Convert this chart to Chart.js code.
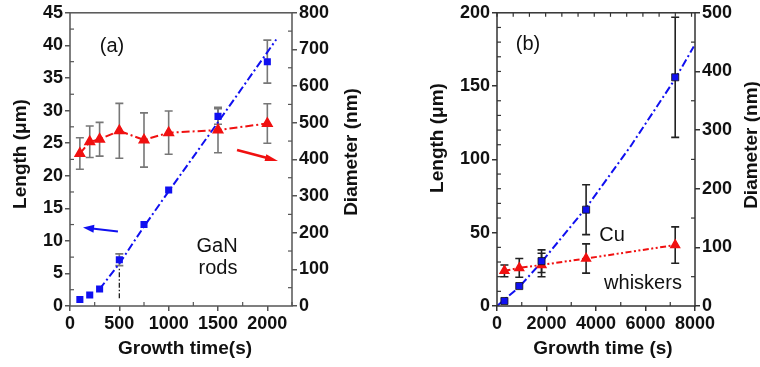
<!DOCTYPE html>
<html>
<head>
<meta charset="utf-8">
<script src="https://cdn.jsdelivr.net/npm/chart.js@4.4.1/dist/chart.umd.min.js"></script>
<style>
  html, body { margin: 0; padding: 0; background: #fff; width: 760px; height: 367px; overflow: hidden; }
  #chartA { position: absolute; left: 0; top: 0; }
  #chartB { position: absolute; left: 380px; top: 0; }
</style>
</head>
<body>
<canvas id="chartA" width="380" height="367"></canvas>
<canvas id="chartB" width="390" height="367"></canvas>
<script>
// ---- panel (a): GaN rods ----
const timeA = [100, 200, 300, 500, 750, 1000, 1500, 2000];
const lengthA = [1.0, 1.7, 2.6, 7.1, 12.5, 17.8, 29.1, 37.5];     // um
const lengthErrA = [0, 0, 0, 0.9, 0, 0, 1.2, 3.3];
const diamA = [416, 448, 455, 478, 453, 473, 480, 498];            // nm
const diamErrA = [43, 43, 46, 75, 74, 59, 62, 54];
const fitTimeA = [300, 500, 750, 1000, 1500, 2090];
const fitLengthA = [2.6, 6.5, 12.2, 17.6, 28.2, 40.9];
const markTimeA = [500, 500];
const markLengthA = [1.2, 6.0];
const ticksTimeA = [0, 500, 1000, 1500, 2000];
const ticksLengthA = [0, 5, 10, 15, 20, 25, 30, 35, 40, 45];
const ticksDiamA = [0, 100, 200, 300, 400, 500, 600, 700, 800];

// ---- panel (b): Cu whiskers ----
const timeB = [300, 900, 1800, 3600, 7200];
const lengthB = [3.4, 13.6, 30.6, 65.7, 156];
const lengthErrB = [0, 0, 7.7, 17, 41];
const diamB = [60, 65, 70, 81, 104];
const diamErrB = [10, 16, 20, 25, 31];
const fitTimeB = [0, 900, 1800, 3600, 5400, 7200, 7950];
const fitLengthB = [0, 13, 30, 67, 109, 155, 177];
const ticksTimeB = [0, 2000, 4000, 6000, 8000];
const ticksLengthB = [0, 50, 100, 150, 200];
const ticksDiamB = [0, 100, 200, 300, 400, 500];

const FONT = "'Liberation Sans', Arial, sans-serif";
const BLUE = '#1010f0';
const RED = '#f01010';
const DASHDOT = [8, 3, 2, 3];
const DASHDOTDOT = [6, 2.5, 2, 2.5, 2, 2.5];

const pts = (xs, ys) => xs.map((x, i) => ({ x: x, y: ys[i] }));

// error bars, frame, minor ticks, arrows, notes and rotated axis titles
const decor = {
    id: 'decor',
    beforeDatasetsDraw(chart, args, o) {
        const ctx = chart.ctx;
        chart.data.datasets.forEach((ds, i) => {
            if (!ds.errors) return;
            const meta = chart.getDatasetMeta(i);
            const ys = chart.scales[ds.yAxisID];
            ctx.save();
            ctx.strokeStyle = o.errColor;
            ctx.lineWidth = 1.6;
            meta.data.forEach((pt, j) => {
                const e = ds.errors[j];
                if (!e) return;
                const v = ds.data[j].y;
                const top = ys.getPixelForValue(v + e);
                const bot = ys.getPixelForValue(v - e);
                ctx.beginPath();
                ctx.moveTo(pt.x, top); ctx.lineTo(pt.x, bot);
                ctx.moveTo(pt.x - o.cap, top); ctx.lineTo(pt.x + o.cap, top);
                ctx.moveTo(pt.x - o.cap, bot); ctx.lineTo(pt.x + o.cap, bot);
                ctx.stroke();
            });
            ctx.restore();
        });
    },
    afterDraw(chart, args, o) {
        const ctx = chart.ctx;
        const a = chart.chartArea;
        const sx = chart.scales.x, sy = chart.scales.yL;
        ctx.save();

        // frame
        ctx.strokeStyle = o.axisColor;
        ctx.lineWidth = 1.5;
        ctx.strokeRect(a.left, a.top, a.right - a.left, a.bottom - a.top);

        // minor ticks (inward)
        ctx.lineWidth = 1.2;
        o.minor.forEach(m => {
            const s = chart.scales[m.scale];
            for (let v = s.min; v <= s.max + 1e-9; v += m.step) {
                if (m.skip && Math.abs(v / m.skip - Math.round(v / m.skip)) < 1e-6) continue;
                const p = s.getPixelForValue(v);
                ctx.beginPath();
                if (m.edge === 'bottom') { ctx.moveTo(p, a.bottom); ctx.lineTo(p, a.bottom - m.len); }
                else if (m.edge === 'top') { ctx.moveTo(p, a.top); ctx.lineTo(p, a.top + m.len); }
                else if (m.edge === 'left') { ctx.moveTo(a.left, p); ctx.lineTo(a.left + m.len, p); }
                else { ctx.moveTo(a.right, p); ctx.lineTo(a.right - m.len, p); }
                ctx.stroke();
            }
        });

        // arrows
        (o.arrows || []).forEach(ar => {
            const x1 = sx.getPixelForValue(ar.x1), y1 = sy.getPixelForValue(ar.y1);
            const x2 = sx.getPixelForValue(ar.x2), y2 = sy.getPixelForValue(ar.y2);
            const ang = Math.atan2(y2 - y1, x2 - x1);
            const hl = ar.head, hw = ar.width;
            const bx = x2 - hl * Math.cos(ang), by = y2 - hl * Math.sin(ang);
            ctx.strokeStyle = ar.color;
            ctx.fillStyle = ar.color;
            ctx.lineWidth = ar.lw;
            ctx.beginPath();
            ctx.moveTo(x1, y1); ctx.lineTo(bx + 2 * Math.cos(ang), by + 2 * Math.sin(ang));
            ctx.stroke();
            ctx.beginPath();
            ctx.moveTo(x2, y2);
            ctx.lineTo(bx + hw * Math.sin(ang), by - hw * Math.cos(ang));
            ctx.lineTo(bx - hw * Math.sin(ang), by + hw * Math.cos(ang));
            ctx.closePath();
            ctx.fill();
        });

        // notes inside the plot
        ctx.fillStyle = '#111';
        ctx.font = '20px ' + FONT;
        ctx.textAlign = 'center';
        ctx.textBaseline = 'middle';
        (o.notes || []).forEach(n => {
            ctx.fillText(n.text, sx.getPixelForValue(n.x), sy.getPixelForValue(n.y));
        });

        // axis titles
        ctx.font = 'bold 19px ' + FONT;
        o.titles.forEach(t => {
            ctx.save();
            ctx.translate(t.x, t.y);
            if (t.rot) ctx.rotate(-Math.PI / 2);
            ctx.fillText(t.text, 0, 0);
            ctx.restore();
        });
        ctx.restore();
    }
};

function axis(min, max, tickValues, size, position, axisColor) {
    const isX = position === 'bottom';
    return {
        type: 'linear',
        position: position,
        min: min,
        max: max,
        afterBuildTicks(s) {
            s.ticks = tickValues.map(v => ({ value: v }));
        },
        ticks: {
            autoSkip: false,
            maxRotation: 0,
            padding: 2,
            color: '#111',
            font: { family: FONT, size: 18, weight: 'bold' },
            callback: v => String(v)
        },
        grid: { drawOnChartArea: false, drawTicks: true, tickLength: 5, color: axisColor, lineWidth: 1.5 },
        border: { display: false },
        afterFit(s) {
            if (isX) s.height = size; else s.width = size;
        }
    };
}

// ---- chart (a) ----
new Chart(document.getElementById('chartA'), {
    type: 'scatter',
    data: {
        datasets: [
            {
                data: pts(timeA, lengthA), yAxisID: 'yL', errors: lengthErrA, order: 0,
                pointStyle: 'rect', pointRadius: 5, backgroundColor: BLUE, borderColor: BLUE, borderWidth: 0
            },
            {
                data: pts(timeA, diamA), yAxisID: 'yR', errors: diamErrA, order: 1,
                showLine: true, borderDash: DASHDOT, borderWidth: 2, borderColor: RED,
                pointStyle: 'triangle', pointRadius: 5, backgroundColor: RED
            },
            {
                data: pts(fitTimeA, fitLengthA), yAxisID: 'yL', order: 2,
                showLine: true, borderDash: DASHDOT, borderWidth: 2, borderColor: BLUE, pointRadius: 0
            },
            {
                data: pts(markTimeA, markLengthA), yAxisID: 'yL', order: 3,
                showLine: true, borderDash: [5, 2, 1.5, 2], borderWidth: 1.3, borderColor: '#222', pointRadius: 0
            }
        ]
    },
    options: {
        responsive: false,
        animation: false,
        devicePixelRatio: 1,
        layout: { padding: { top: 11, left: 0, right: 0, bottom: 0 } },
        scales: {
            x: axis(0, 2250, ticksTimeA, 61, 'bottom', '#555'),
            yL: axis(0, 45, ticksLengthA, 70, 'left', '#555'),
            yR: axis(0, 800, ticksDiamA, 88, 'right', '#555')
        },
        plugins: {
            legend: { display: false },
            tooltip: { enabled: false },
            decor: {
                errColor: '#777',
                axisColor: '#555',
                cap: 4,
                minor: [
                    { scale: 'x', step: 250, skip: 500, edge: 'bottom', len: 4 },
                    { scale: 'yL', step: 2.5, skip: 5, edge: 'left', len: 4 },
                    { scale: 'yR', step: 50, skip: 100, edge: 'right', len: 4 }
                ],
                arrows: [
                    { x1: 486, y1: 11.44, x2: 132, y2: 12.05, color: BLUE, head: 11, width: 4, lw: 2 },
                    { x1: 1693, y1: 23.95, x2: 2108, y2: 22.27, color: RED, head: 13, width: 3.5, lw: 2.6 }
                ],
                notes: [
                    { text: '(a)', x: 426, y: 39.8 },
                    { text: 'GaN', x: 1490, y: 9.15 },
                    { text: 'rods', x: 1500, y: 5.8 }
                ],
                titles: [
                    { text: 'Length (\u03bcm)', x: 21, y: 154, rot: true },
                    { text: 'Diameter (nm)', x: 352, y: 152, rot: true },
                    { text: 'Growth time(s)', x: 185, y: 349, rot: false }
                ]
            }
        }
    },
    plugins: [decor]
});

// ---- chart (b) ----
new Chart(document.getElementById('chartB'), {
    type: 'scatter',
    data: {
        datasets: [
            {
                data: pts(timeB, lengthB), yAxisID: 'yL', errors: lengthErrB, order: 0,
                pointStyle: 'rect', pointRadius: 5, backgroundColor: BLUE, borderColor: '#111', borderWidth: 0.8
            },
            {
                data: pts(timeB, diamB), yAxisID: 'yR', errors: diamErrB, order: 1,
                showLine: true, borderDash: DASHDOTDOT, borderWidth: 2, borderColor: RED,
                pointStyle: 'triangle', pointRadius: 4.5, backgroundColor: RED
            },
            {
                data: pts(fitTimeB, fitLengthB), yAxisID: 'yL', order: 2,
                showLine: true, borderDash: DASHDOT, borderWidth: 2, borderColor: BLUE, pointRadius: 0
            }
        ]
    },
    options: {
        responsive: false,
        animation: false,
        devicePixelRatio: 1,
        layout: { padding: { top: 12, left: 0, right: 0, bottom: 0 } },
        scales: {
            x: axis(0, 8000, ticksTimeB, 61, 'bottom', '#333'),
            yL: axis(0, 200, ticksLengthB, 117, 'left', '#333'),
            yR: axis(0, 500, ticksDiamB, 75, 'right', '#333')
        },
        plugins: {
            legend: { display: false },
            tooltip: { enabled: false },
            decor: {
                errColor: '#222',
                axisColor: '#333',
                cap: 4,
                minor: [
                    { scale: 'x', step: 1000, skip: 2000, edge: 'bottom', len: 4 },
                    { scale: 'x', step: 655, edge: 'top', len: 4 },
                    { scale: 'yL', step: 10, skip: 50, edge: 'left', len: 4 },
                    { scale: 'yR', step: 50, skip: 100, edge: 'right', len: 4 }
                ],
                notes: [
                    { text: '(b)', x: 1252, y: 178.7 },
                    { text: 'Cu', x: 4646, y: 48.2 },
                    { text: 'whiskers', x: 5899, y: 15.6 }
                ],
                titles: [
                    { text: 'Length (\u03bcm)', x: 58, y: 138, rot: true },
                    { text: 'Diameter (nm)', x: 372, y: 145, rot: true },
                    { text: 'Growth time (s)', x: 223, y: 349, rot: false }
                ]
            }
        }
    },
    plugins: [decor]
});
</script>
</body>
</html>
